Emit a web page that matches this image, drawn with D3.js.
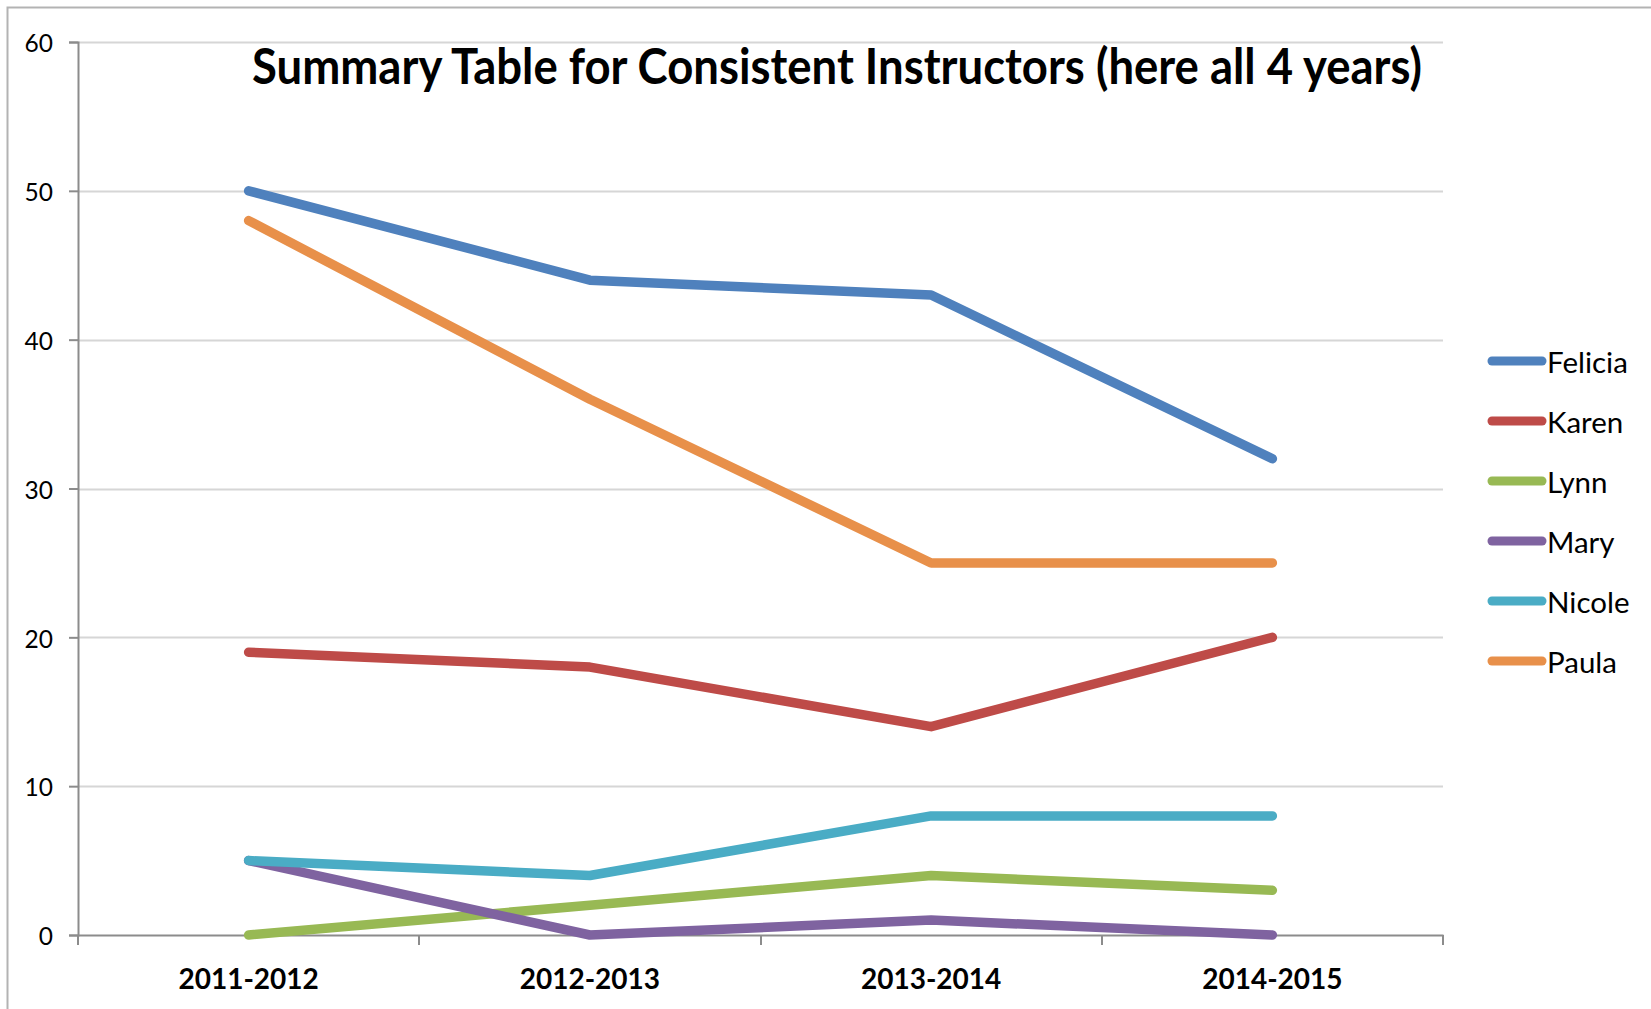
<!DOCTYPE html>
<html>
<head>
<meta charset="utf-8">
<script src="https://cdn.jsdelivr.net/npm/d3@7"></script>
<style>
  html, body { margin: 0; padding: 0; background: #fff; }
  svg { display: block; }
  text { font-family: Lato, "Open Sans", sans-serif; fill: #000; }
</style>
</head>
<body>
<svg id="chart" width="1651" height="1009"></svg>
<script>
const categories = ["2011-2012", "2012-2013", "2013-2014", "2014-2015"];
const seriesNames = ["Felicia", "Karen", "Lynn", "Mary", "Nicole", "Paula"];
const felicia = [50, 44, 43, 32];
const karen = [19, 18, 14, 20];
const lynn = [0, 2, 4, 3];
const mary = [5, 0, 1, 0];
const nicole = [5, 4, 8, 8];
const paula = [48, 36, 25, 25];
const yTicks = [0, 10, 20, 30, 40, 50, 60];
const colors = ["#4F81BD", "#BE4B48", "#98B954", "#7F63A0", "#4AACC5", "#E8904A"];
const title = "Summary Table for Consistent Instructors (here all 4 years)";

const series = [felicia, karen, lynn, mary, nicole, paula].map((v, i) => ({
  name: seriesNames[i], values: v, color: colors[i]
}));

const svg = d3.select("#chart");
const plot = { left: 78, right: 1443, top: 42, bottom: 935 };

// outer chart border
svg.append("path")
  .attr("d", "M7.5,1009 L7.5,7.5 L1651,7.5")
  .attr("fill", "none").attr("stroke", "#b3b3b3").attr("stroke-width", 2);

const x = d3.scaleBand().domain(categories).range([plot.left, plot.right]).padding(0);
const y = d3.scaleLinear().domain([0, 60]).range([plot.bottom, plot.top]);

// gridlines
svg.append("g").selectAll("line").data(yTicks.filter(d => d > 0)).join("line")
  .attr("x1", plot.left).attr("x2", plot.right)
  .attr("y1", d => Math.round(y(d)) + 0.5).attr("y2", d => Math.round(y(d)) + 0.5)
  .attr("stroke", "#d6d6d6").attr("stroke-width", 2);

// y axis
const yAxis = svg.append("g").attr("transform", `translate(${plot.left},0)`)
  .call(d3.axisLeft(y).tickValues(yTicks).tickSize(9).tickPadding(16).tickFormat(d3.format("d")));
yAxis.select(".domain").attr("stroke", "#8c8c8c").attr("stroke-width", 2);
yAxis.selectAll(".tick line").attr("stroke", "#8c8c8c").attr("stroke-width", 2);
yAxis.selectAll(".tick text").attr("font-size", 24.5).attr("font-family", "Lato, sans-serif")
  .attr("fill", "#000").attr("dy", "0.4em");

// x axis
const xAxis = svg.append("g").attr("transform", `translate(0,${plot.bottom})`)
  .call(d3.axisBottom(x).tickSize(0).tickSizeOuter(0).tickPadding(34));
xAxis.select(".domain").attr("stroke", "#8c8c8c").attr("stroke-width", 2);
xAxis.selectAll(".tick text").attr("font-size", 28).attr("font-weight", "bold")
  .attr("font-family", "Lato, sans-serif").attr("fill", "#000").attr("dy", "0.71em");
// boundary ticks between categories
const bounds = categories.map(c => x(c)).concat([x(categories[categories.length - 1]) + x.bandwidth()]);
xAxis.append("g").selectAll("line").data(bounds).join("line")
  .attr("x1", d => Math.round(d)).attr("x2", d => Math.round(d))
  .attr("y1", 0).attr("y2", 10)
  .attr("stroke", "#8c8c8c").attr("stroke-width", 2);

// lines
const line = d3.line()
  .x((d, i) => x(categories[i]) + x.bandwidth() / 2)
  .y(d => y(d));
svg.append("g").selectAll("path").data(series).join("path")
  .attr("d", d => line(d.values))
  .attr("fill", "none")
  .attr("stroke", d => d.color)
  .attr("stroke-width", 9.5)
  .attr("stroke-linecap", "round")
  .attr("stroke-linejoin", "round");

// title
svg.append("text")
  .attr("x", 252).attr("y", 84)
  .attr("font-size", 50).attr("font-weight", "bold")
  .attr("textLength", 1170).attr("lengthAdjust", "spacingAndGlyphs")
  .text(title);

// legend
const legend = svg.append("g").selectAll("g").data(series).join("g")
  .attr("transform", (d, i) => `translate(0,${361 + i * 60})`);
legend.append("line")
  .attr("x1", 1492).attr("x2", 1542).attr("y1", 0).attr("y2", 0)
  .attr("stroke", d => d.color).attr("stroke-width", 9).attr("stroke-linecap", "round");
legend.append("text")
  .attr("x", 1547).attr("y", 12)
  .attr("font-size", 29.5)
  .text(d => d.name);
</script>
</body>
</html>
